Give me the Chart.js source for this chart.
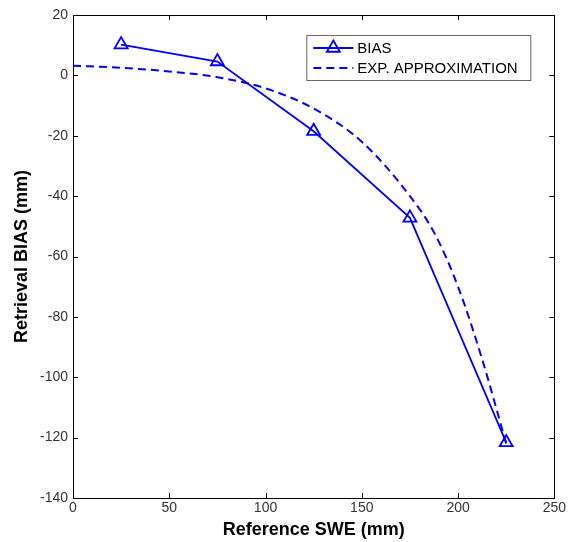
<!DOCTYPE html>
<html>
<head>
<meta charset="utf-8">
<script src="https://cdn.jsdelivr.net/npm/chart.js@4"></script>
<style>
  html, body { margin: 0; padding: 0; background: #fff; }
  #wrap { width: 568px; height: 542px; }
</style>
</head>
<body>
<div id="wrap"><canvas id="biasChart" width="568" height="542"></canvas></div>
<script>
// values
const sweRef = [25, 75, 125, 175, 225];
const biasVals = [10.2, 4.6, -18.5, -47.2, -121.6];

const expX = [0, 25, 50, 75, 100, 125, 150, 175, 187.5, 200, 212.5, 225];
const expVals = [3.2, 2.5, 1.3, -0.6, -4.3, -11, -22, -40, -52, -70, -94, -122];

const xTicks = [0, 50, 100, 150, 200, 250];
const yTicks = [20, 0, -20, -40, -60, -80, -100, -120, -140];

const BLUE = '#0000ff';
const FONT = 'Arial, "Liberation Sans", Helvetica, sans-serif';

const toPoints = (xs, ys) => xs.map((x, i) => ({ x: x, y: ys[i] }));

// inward ticks on all four sides + box, matlab style
const boxPlugin = {
  id: 'boxPlugin',
  afterDraw: function (chart) {
    const ctx = chart.ctx;
    const a = chart.chartArea;
    const xs = chart.scales.x, ys = chart.scales.y;
    const len = 5;
    ctx.save();
    ctx.strokeStyle = '#000';
    ctx.lineWidth = 1;
    ctx.beginPath();
    xTicks.forEach(function (v) {
      const px = Math.round(xs.getPixelForValue(v)) + 0.5;
      ctx.moveTo(px, a.bottom); ctx.lineTo(px, a.bottom - len);
      ctx.moveTo(px, a.top); ctx.lineTo(px, a.top + len);
    });
    yTicks.forEach(function (v) {
      const py = Math.round(ys.getPixelForValue(v)) + 0.5;
      ctx.moveTo(a.left, py); ctx.lineTo(a.left + len, py);
      ctx.moveTo(a.right, py); ctx.lineTo(a.right - len, py);
    });
    ctx.stroke();
    ctx.strokeRect(Math.round(a.left) + 0.5, Math.round(a.top) + 0.5,
      Math.round(a.right - a.left), Math.round(a.bottom - a.top));
    ctx.restore();
  }
};

// legend box in the upper right corner of the axes
const legendPlugin = {
  id: 'legendPlugin',
  afterDraw: function (chart) {
    const ctx = chart.ctx;
    const a = chart.chartArea;
    const bx = a.right - 248, by = a.top + 20, bw = 224, bh = 45;
    ctx.save();
    ctx.fillStyle = '#fff';
    ctx.fillRect(bx, by, bw, bh);
    ctx.strokeStyle = '#666';
    ctx.lineWidth = 1;
    ctx.strokeRect(bx + 0.5, by + 0.5, bw, bh);

    ctx.font = '15px ' + FONT;
    ctx.textBaseline = 'middle';
    chart.data.datasets.forEach(function (ds, i) {
      const y = by + 13 + i * 20;
      ctx.strokeStyle = ds.borderColor;
      ctx.lineWidth = ds.borderWidth;
      ctx.setLineDash(ds.borderDash || []);
      ctx.beginPath();
      ctx.moveTo(bx + 7, y);
      ctx.lineTo(bx + 47, y);
      ctx.stroke();
      ctx.setLineDash([]);
      if (ds.pointRadius > 0) {
        ctx.fillStyle = 'rgba(0,0,0,0)';
        ctx.strokeStyle = ds.pointBorderColor;
        ctx.lineWidth = ds.pointBorderWidth;
        Chart.helpers.drawPoint(ctx, {
          pointStyle: ds.pointStyle, radius: ds.pointRadius,
          borderWidth: ds.pointBorderWidth, rotation: 0
        }, bx + 27, y);
      }
      ctx.fillStyle = '#000';
      ctx.fillText(ds.label, bx + 51, y + 1);
    });
    ctx.restore();
  }
};

const ctx = document.getElementById('biasChart');
new Chart(ctx, {
  type: 'scatter',
  data: {
    datasets: [{
      label: 'BIAS',
      data: toPoints(sweRef, biasVals),
      showLine: true,
      borderColor: BLUE,
      backgroundColor: 'rgba(0,0,0,0)',
      borderWidth: 1.8,
      pointStyle: 'triangle',
      pointRadius: 7.5,
      pointBorderWidth: 1.8,
      pointBorderColor: BLUE,
      pointBackgroundColor: 'rgba(0,0,0,0)',
      tension: 0
    }, {
      label: 'EXP. APPROXIMATION',
      data: toPoints(expX, expVals),
      showLine: true,
      borderColor: BLUE,
      backgroundColor: 'rgba(0,0,0,0)',
      borderWidth: 2,
      borderDash: [8, 5],
      pointRadius: 0,
      cubicInterpolationMode: 'monotone'
    }]
  },
  options: {
    responsive: false,
    animation: false,
    layout: { padding: { top: 15, right: 12, left: 0, bottom: 0 } },
    plugins: {
      legend: { display: false },
      tooltip: { enabled: false }
    },
    scales: {
      x: {
        type: 'linear',
        min: 0, max: 250,
        afterBuildTicks: function (s) { s.ticks = xTicks.map(v => ({ value: v })); },
        afterFit: function (s) { s.height = 44; },
        grid: { display: false, drawTicks: false },
        border: { display: false },
        ticks: { color: '#333', padding: 2, font: { family: FONT, size: 14 } },
        title: {
          display: true, text: 'Reference SWE (mm)', color: '#000',
          font: { family: FONT, size: 18, weight: 'bold' },
          padding: { top: 0, bottom: 1 }
        }
      },
      y: {
        type: 'linear',
        min: -140, max: 20,
        afterBuildTicks: function (s) { s.ticks = yTicks.map(v => ({ value: v })); },
        afterFit: function (s) { s.width = 73; },
        grid: { display: false, drawTicks: false },
        border: { display: false },
        ticks: { color: '#333', padding: 5, font: { family: FONT, size: 14 } },
        title: {
          display: true, text: 'Retrieval BIAS (mm)', color: '#000',
          font: { family: FONT, size: 18, weight: 'bold' },
          padding: { top: 11, bottom: 0 }
        }
      }
    }
  },
  plugins: [boxPlugin, legendPlugin]
});
</script>
</body>
</html>
